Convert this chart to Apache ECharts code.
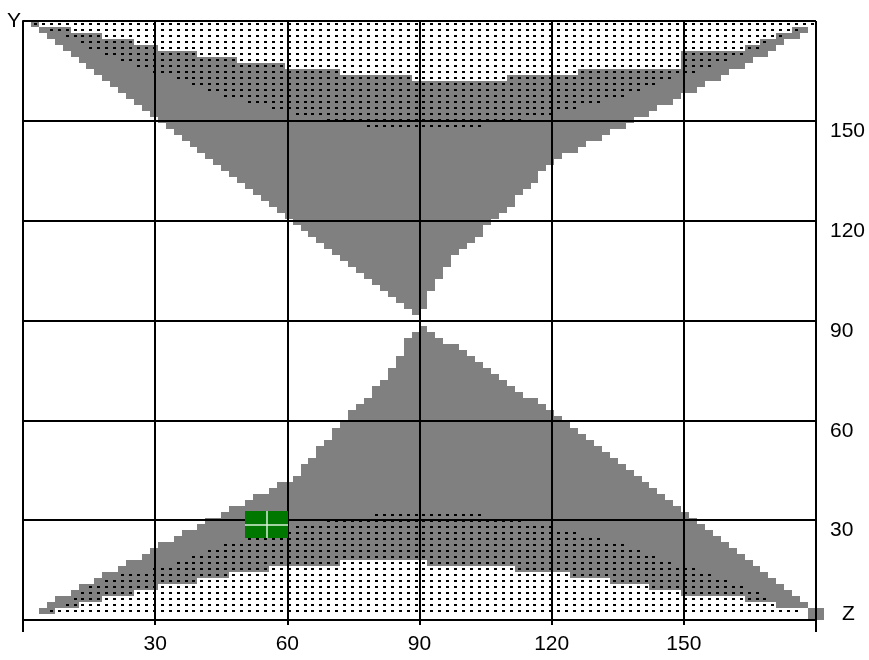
<!DOCTYPE html>
<html>
<head>
<meta charset="utf-8">
<title>Y-Z raster</title>
<script src="https://cdn.jsdelivr.net/npm/echarts@6/dist/echarts.min.js"></script>
<style>
  html, body { margin: 0; padding: 0; background: #fff; }
  #chart { width: 869px; height: 660px; }
</style>
</head>
<body>
<div id="chart"></div>
<script>
// one raster cell = 1.8 degrees on both axes
const CELL = 1.8;

// lower lobe, gray cells: row -> first col .. last col
const lowGrayRows = [0, 1, 2, 3, 4, 5, 6, 7, 8, 9, 10, 11, 12, 13, 14, 15, 16, 17, 18, 19, 20, 21, 22, 23, 24,
  25, 26, 27, 28, 29, 30, 31, 32, 33, 34, 35, 36, 37, 38, 39, 40, 41, 42, 43, 44, 45, 46, 47, 48];
const lowGrayFrom = [99, 2, 3, 4, 6, 7, 9, 10, 12, 13, 15, 16, 17, 19, 20, 22, 23, 25, 26, 28, 29, 31, 32, 34, 35,
  35, 36, 37, 37, 38, 39, 39, 40, 41, 41, 42, 43, 44, 44, 45, 46, 46, 47, 47, 48, 48, 48, 49, 50];
const lowGrayTo = [100, 100, 98, 97, 96, 95, 94, 93, 92, 91, 90, 89, 88, 87, 86, 85, 84, 83, 82, 81, 80, 79, 78, 77, 76,
  75, 74, 73, 72, 71, 70, 69, 68, 67, 66, 65, 64, 62, 61, 60, 59, 58, 57, 56, 55, 54, 52, 51, 50];

// upper lobe, gray cells
const upGrayRows = [51, 52, 53, 54, 55, 56, 57, 58, 59, 60, 61, 62, 63, 64, 65, 66, 67, 68, 69, 70, 71, 72, 73, 74, 75,
  76, 77, 78, 79, 80, 81, 82, 83, 84, 85, 86, 87, 88, 89, 90, 91, 92, 93, 94, 95, 96, 97, 98, 99];
const upGrayFrom = [49, 48, 47, 46, 45, 44, 43, 42, 41, 40, 39, 38, 37, 36, 35, 34, 33, 32, 31, 30, 29, 28, 27, 26, 25,
  24, 23, 22, 21, 20, 19, 18, 17, 16, 15, 14, 13, 12, 11, 10, 9, 8, 7, 6, 5, 4, 3, 2, 1];
const upGrayTo = [49, 50, 50, 50, 51, 51, 52, 52, 53, 53, 54, 55, 56, 57, 57, 58, 59, 60, 61, 61, 62, 63, 64, 64, 65,
  66, 67, 69, 70, 72, 73, 75, 76, 78, 79, 81, 82, 84, 85, 87, 88, 90, 91, 93, 94, 95, 97, 98, 1];

// blank (white) cells cut back out of the lobes
const lowWhiteRows = [1, 2, 3, 4, 5, 6, 7, 8, 9];
const lowWhiteFrom = [4, 7, 10, 14, 17, 22, 26, 31, 40];
const lowWhiteTo = [98, 94, 90, 82, 78, 73, 68, 61, 50];

const upWhiteRows = [90, 91, 92, 93, 94, 95, 96, 97, 98];
const upWhiteFrom = [49, 40, 33, 27, 22, 17, 14, 10, 6];
const upWhiteTo = [60, 69, 82, 82, 82, 90, 92, 94, 96];

// dotted cells
const lowDotRows = [1, 2, 3, 4, 5, 6, 7, 8, 9, 10, 11, 12, 13, 14, 15, 16, 17];
const lowDotFrom = [3, 5, 6, 7, 8, 10, 12, 16, 19, 21, 23, 25, 28, 31, 34, 38, 44];
const lowDotTo = [97, 94, 93, 92, 90, 88, 86, 84, 81, 79, 77, 75, 72, 69, 66, 62, 57];

const upDotRows = [82, 83, 84, 85, 86, 87, 88, 89, 90, 91, 92, 93, 94, 95, 96, 97, 98, 99];
const upDotFrom = [43, 38, 34, 31, 28, 25, 23, 21, 19, 16, 14, 12, 10, 8, 7, 5, 3, 1];
const upDotTo = [57, 62, 66, 69, 72, 75, 77, 79, 81, 84, 86, 88, 90, 92, 93, 95, 97, 99];

// cursor position (Z, Y)
const cursorPoint = [55.2, 28.6];

const GRAY = '#808080';
const LINE = '#000';

function toSpans(rows, from, to) {
  return rows.map((r, i) => [r, from[i], to[i]]);
}

function spanRenderer(fill) {
  return function (params, api) {
    const row = api.value(0);
    const p0 = api.coord([api.value(1) * CELL, (row + 1) * CELL]);
    const p1 = api.coord([(api.value(2) + 1) * CELL, row * CELL]);
    const x0 = Math.round(p0[0]);
    const y0 = Math.round(p0[1]);
    return {
      type: 'rect',
      shape: { x: x0, y: y0, width: Math.round(p1[0]) - x0, height: Math.round(p1[1]) - y0 },
      style: { fill: fill }
    };
  };
}

function dotRenderer(params, api) {
  const row = api.value(0);
  const children = [];
  for (let c = api.value(1); c <= api.value(2); c++) {
    const p = api.coord([(c + 0.5) * CELL, (row + 0.5) * CELL]);
    children.push({
      type: 'rect',
      shape: { x: Math.round(p[0]) - 1, y: Math.round(p[1]) - 1, width: 3, height: 2 },
      style: { fill: '#000' }
    });
  }
  return { type: 'group', children: children };
}

function cursorRenderer(params, api) {
  const p = api.coord([api.value(0), api.value(1)]);
  const cx = Math.round(p[0]);
  const cy = Math.round(p[1]);
  return {
    type: 'group',
    children: [
      { type: 'rect', shape: { x: cx - 21, y: cy - 14, width: 43, height: 27 }, style: { fill: '#007800' } },
      { type: 'line', shape: { x1: cx - 21, y1: cy, x2: cx + 22, y2: cy }, style: { stroke: '#d8f0d8', lineWidth: 1.5 } },
      { type: 'line', shape: { x1: cx + 1, y1: cy - 14, x2: cx + 1, y2: cy + 13 }, style: { stroke: '#d8f0d8', lineWidth: 1.5 } }
    ]
  };
}

const lineStyle = { color: LINE, width: 2 };
const labelFont = { color: '#000', fontSize: 21, fontFamily: 'Liberation Sans, Arial, sans-serif' };

const chart = echarts.init(document.getElementById('chart'), null, { renderer: 'canvas' });

const option = {
  animation: false,
  backgroundColor: '#fff',
  grid: { left: 23, right: 53, top: 21, bottom: 40 },
  xAxis: [{
    type: 'value',
    min: 0,
    max: 180,
    interval: 30,
    z: 10,
    axisLine: { show: true, lineStyle: lineStyle },
    axisTick: { show: true, length: 5, lineStyle: lineStyle },
    splitLine: { show: true, lineStyle: lineStyle },
    axisLabel: Object.assign({
      margin: 14,
      formatter: v => (v === 0 || v === 180) ? '' : String(v)
    }, labelFont)
  }, {
    // longer ticks at the two plot edges
    type: 'value',
    min: 0,
    max: 180,
    interval: 180,
    position: 'bottom',
    z: 10,
    axisLine: { show: false },
    axisTick: { show: true, length: 12, lineStyle: lineStyle },
    splitLine: { show: false },
    axisLabel: { show: false }
  }],
  yAxis: {
    type: 'value',
    min: 0,
    max: 180,
    interval: 30,
    position: 'right',
    z: 10,
    axisLine: { show: true, lineStyle: lineStyle },
    axisTick: { show: true, length: 12, lineStyle: lineStyle },
    splitLine: { show: true, lineStyle: lineStyle },
    axisLabel: Object.assign({
      margin: 14,
      verticalAlign: 'top',
      formatter: v => (v === 0 || v === 180) ? '' : String(v)
    }, labelFont)
  },
  graphic: [
    { type: 'text', left: 7, top: 11, style: { text: 'Y', fill: '#000', font: '21px "Liberation Sans", Arial, sans-serif' } },
    { type: 'text', left: 842, top: 604, style: { text: 'Z', fill: '#000', font: '21px "Liberation Sans", Arial, sans-serif' } }
  ],
  series: [
    { type: 'custom', name: 'lower', renderItem: spanRenderer(GRAY), data: toSpans(lowGrayRows, lowGrayFrom, lowGrayTo), z: 1, silent: true },
    { type: 'custom', name: 'upper', renderItem: spanRenderer(GRAY), data: toSpans(upGrayRows, upGrayFrom, upGrayTo), z: 1, silent: true },
    { type: 'custom', name: 'lowerBlank', renderItem: spanRenderer('#fff'), data: toSpans(lowWhiteRows, lowWhiteFrom, lowWhiteTo), z: 2, silent: true },
    { type: 'custom', name: 'upperBlank', renderItem: spanRenderer('#fff'), data: toSpans(upWhiteRows, upWhiteFrom, upWhiteTo), z: 2, silent: true },
    { type: 'custom', name: 'lowerDots', renderItem: dotRenderer, data: toSpans(lowDotRows, lowDotFrom, lowDotTo), z: 3, silent: true },
    { type: 'custom', name: 'upperDots', renderItem: dotRenderer, data: toSpans(upDotRows, upDotFrom, upDotTo), z: 3, silent: true },
    { type: 'custom', name: 'cursor', renderItem: cursorRenderer, data: [cursorPoint], z: 20, silent: true }
  ]
};

chart.setOption(option);
</script>
</body>
</html>
